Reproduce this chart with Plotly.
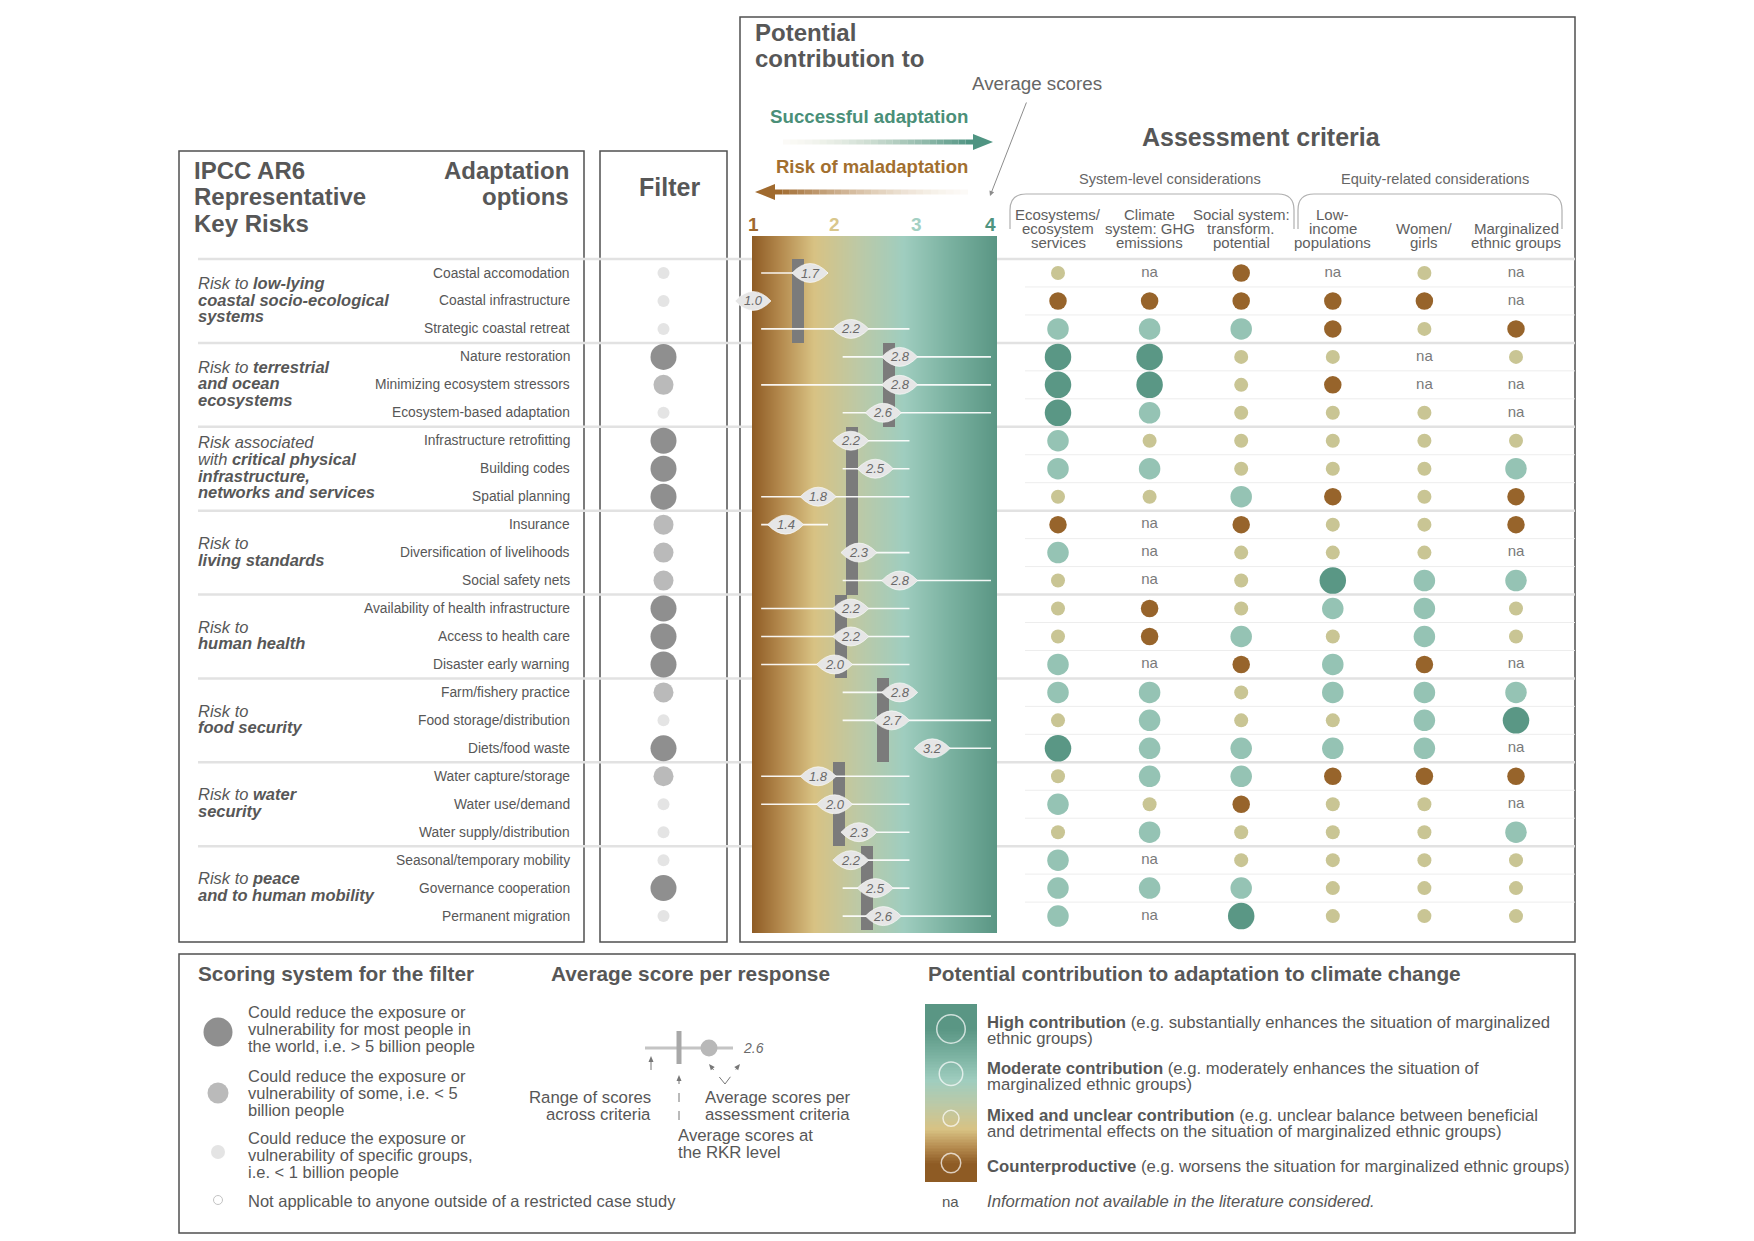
import numpy as np
import plotly.graph_objects as go

W, H = 1754, 1241
OFF = 8  # page body margin compensation

# ---------------- DATA ----------------
risk_labels = [
    ["Risk to <b>low-lying</b>", "<b>coastal socio-ecological</b>", "<b>systems</b>"],
    ["Risk to <b>terrestrial</b>", "<b>and ocean</b>", "<b>ecosystems</b>"],
    ["Risk associated", "with <b>critical physical</b>", "<b>infrastructure,</b>", "<b>networks and services</b>"],
    ["Risk to", "<b>living standards</b>"],
    ["Risk to", "<b>human health</b>"],
    ["Risk to", "<b>food security</b>"],
    ["Risk to <b>water</b>", "<b>security</b>"],
    ["Risk to <b>peace</b>", "<b>and to human mobility</b>"],
]
group_size = [3, 3, 3, 3, 3, 3, 3, 3]

options = [
    "Coastal accomodation", "Coastal infrastructure", "Strategic coastal retreat",
    "Nature restoration", "Minimizing ecosystem stressors", "Ecosystem-based adaptation",
    "Infrastructure retrofitting", "Building codes", "Spatial planning",
    "Insurance", "Diversification of livelihoods", "Social safety nets",
    "Availability of health infrastructure", "Access to health care", "Disaster early warning",
    "Farm/fishery practice", "Food storage/distribution", "Diets/food waste",
    "Water capture/storage", "Water use/demand", "Water supply/distribution",
    "Seasonal/temporary mobility", "Governance cooperation", "Permanent migration",
]

# filter: L = > 5 billion, M = < 5 billion, S = < 1 billion
filter_level = ["S", "S", "S", "L", "M", "S", "L", "L", "L", "M", "M", "M",
                "L", "L", "L", "M", "S", "L", "M", "S", "S", "S", "L", "S"]

criteria_headers = [
    ["Ecosystems/", "ecosystem", "services"],
    ["Climate", "system: GHG", "emissions"],
    ["Social system:", "transform.", "potential"],
    ["Low-", "income", "populations"],
    ["Women/", "girls"],
    ["Marginalized", "ethnic groups"],
]

# 1 counterproductive, 2 mixed, 3 moderate, 4 high, None = na
eco = [2, 1, 3, 4, 4, 4, 3, 3, 2, 1, 3, 2, 2, 2, 3, 3, 2, 4, 2, 3, 2, 3, 3, 3]
climate = [None, 1, 3, 4, 4, 3, 2, 3, 2, None, None, None, 1, 1, None, 3, 3, 3, 3, 2, 3, None, 3, None]
social = [1, 1, 3, 2, 2, 2, 2, 2, 3, 1, 2, 2, 2, 3, 1, 2, 2, 3, 3, 1, 2, 2, 3, 4]
low_income = [None, 1, 1, 2, 1, 2, 2, 2, 1, 2, 2, 4, 3, 2, 3, 3, 2, 3, 1, 2, 2, 2, 2, 2]
women = [2, 1, 2, None, None, 2, 2, 2, 2, 2, 2, 3, 3, 3, 1, 3, 3, 3, 1, 2, 2, 2, 2, 2]
marginalized = [None, None, 1, 2, None, None, 2, 3, 1, 1, None, 3, 2, 2, None, 3, 4, None, 1, None, 3, 2, 2, 2]

avg_scores = [1.7, 1.0, 2.2, 2.8, 2.8, 2.6, 2.2, 2.5, 1.8, 1.4, 2.3, 2.8,
              2.2, 2.2, 2.0, 2.8, 2.7, 3.2, 1.8, 2.0, 2.3, 2.2, 2.5, 2.6]
rkr_avg = [1.55, 2.67, 2.22, 2.22, 2.08, 2.59, 2.06, 2.40]

score_ticks = [1, 2, 3, 4]

# ---------------- STYLE ----------------
FONT = "Liberation Sans, Arial, Helvetica, sans-serif"
TXT = "#575757"
score_color = {1: "#97642B", 2: "#C9C594", 3: "#95C3B4", 4: "#5A9785"}
score_size = {1: 17.5, 2: 14, 3: 21.5, 4: 26.5}
filter_color = {"L": "#606060", "M": "#9D9D9D", "S": "#D8D8D8"}
filter_size = {"L": 26, "M": 20, "S": 12}
tick_color = {1: "#A0692E", 2: "#D9C78C", 3: "#A3D0C3", 4: "#4F9480"}

ROW0, ROWH = 273.0, 27.96
def rowpx(ypx):
    return (ypx - ROW0) / ROWH

S0, SU = 753.0, 81.5
def spx(xpx):
    return 1 + (xpx - S0) / SU

def px(x):
    return (x - OFF) / W

def py(y):
    return 1 - (y - OFF) / H

grad_stops = [(1.0, "#8E5B24"), (1.35, "#B58B4F"), (1.75, "#D8C283"), (2.3, "#BCC9A6"),
              (2.85, "#9FCDBF"), (3.4, "#7BB2A1"), (4.0, "#5A9684")]
ZMIN, ZMAX = spx(752), spx(997)
colorscale = [[max(0.0, min(1.0, (s - ZMIN) / (ZMAX - ZMIN))), c] for s, c in grad_stops]
colorscale[0][0] = 0.0
colorscale[-1][0] = 1.0

n_rows = len(options)
rows = list(range(n_rows))

fig = go.Figure()

# ---------- gradient background ----------
gx = np.linspace(spx(752), spx(997), 246)
gz = [list((gx[:-1] + gx[1:]) / 2)]
fig.add_trace(go.Heatmap(x=gx, y=[rowpx(236), rowpx(933)], z=gz, colorscale=colorscale,
                         zmin=ZMIN, zmax=ZMAX, showscale=False, hoverinfo="skip",
                         xaxis="x", yaxis="y"))

# ---------- range lines ----------
cols = [eco, climate, social, low_income, women, marginalized]
lx, ly = [], []
for r in rows:
    vals = [c[r] for c in cols if c[r] is not None]
    lo, hi = min(vals), max(vals)
    if hi > lo:
        lx += [lo + 0.1, hi - 0.08, None]
        ly += [r, r, None]
fig.add_trace(go.Scatter(x=lx, y=ly, mode="lines", line=dict(color="rgba(255,255,255,0.92)", width=1.6),
                         hoverinfo="skip", xaxis="x", yaxis="y", showlegend=False))

# ---------- RKR bars ----------
bases, starts = [], 0
for g in group_size:
    bases.append(starts - 0.5)
    starts += g
fig.add_trace(go.Bar(x=rkr_avg, y=group_size, base=bases, width=12 / SU,
                     marker=dict(color="#7B7B7B", line=dict(width=0)),
                     xaxis="x", yaxis="y", showlegend=False, hoverinfo="skip"))

# ---------- filter dots ----------
fig.add_trace(go.Scatter(x=[0] * n_rows, y=rows, mode="markers",
                         marker=dict(size=[filter_size[f] for f in filter_level],
                                     color=[filter_color[f] for f in filter_level], line=dict(width=0)),
                         xaxis="x2", yaxis="y", showlegend=False, hoverinfo="skip"))

# ---------- criteria dots ----------
dx, dy, ds, dc, nx, ny = [], [], [], [], [], []
for ci, col in enumerate(cols):
    for r in rows:
        v = col[r]
        if v is None:
            nx.append(ci); ny.append(r)
        else:
            dx.append(ci); dy.append(r); ds.append(score_size[v]); dc.append(score_color[v])
fig.add_trace(go.Scatter(x=dx, y=dy, mode="markers",
                         marker=dict(size=ds, color=dc, line=dict(width=0), opacity=1),
                         xaxis="x3", yaxis="y", showlegend=False, hoverinfo="skip"))
fig.add_trace(go.Scatter(x=nx, y=ny, mode="text", text=["na"] * len(nx),
                         textfont=dict(family=FONT, size=15, color="#7A7A7A"),
                         xaxis="x3", yaxis="y", showlegend=False, hoverinfo="skip"))

# ---------- legend: filter circles & mini chart (pixel axis) ----------
fig.add_trace(go.Scatter(x=[218, 218, 218, 218], y=[1032, 1093, 1152, 1200], mode="markers",
                         marker=dict(size=[29, 21, 14, 9],
                                     color=["#606060", "#9D9D9D", "#D8D8D8", "white"],
                                     line=dict(width=[0, 0, 0, 1], color=["#606060", "#9D9D9D", "#D8D8D8", "#AAAAAA"])),
                         xaxis="x4", yaxis="y2", showlegend=False, hoverinfo="skip"))
fig.add_trace(go.Scatter(x=[645, 733], y=[1048, 1048], mode="lines", line=dict(color="#C4C4C4", width=3),
                         xaxis="x4", yaxis="y2", showlegend=False, hoverinfo="skip"))
fig.add_trace(go.Scatter(x=[679, 679], y=[1031, 1064], mode="lines", line=dict(color="#A8A8A8", width=5),
                         xaxis="x4", yaxis="y2", showlegend=False, hoverinfo="skip"))
fig.add_trace(go.Scatter(x=[709], y=[1048], mode="markers", marker=dict(size=17, color="#B8B8B8"),
                         xaxis="x4", yaxis="y2", showlegend=False, hoverinfo="skip"))

# ---------- legend colour bar ----------
cy = np.linspace(0.575, 4.56, 120)
cz = [[v] for v in (cy[:-1] + cy[1:]) / 2]
fig.add_trace(go.Heatmap(x=[0, 1], y=cy, z=cz, colorscale=colorscale, zmin=ZMIN, zmax=ZMAX,
                         showscale=False, hoverinfo="skip", xaxis="x5", yaxis="y3"))
fig.add_trace(go.Scatter(x=[0.5] * 4, y=score_ticks[::-1], mode="markers",
                         marker=dict(size=[score_size[s] + 2 for s in score_ticks[::-1]], color="rgba(0,0,0,0)",
                                     line=dict(color="white", width=1.5)),
                         xaxis="x5", yaxis="y3", showlegend=False, hoverinfo="skip"))

# ---------------- SHAPES ----------------
shapes = []
def rect(x0, y0, x1, y1, **kw):
    d = dict(type="rect", xref="paper", yref="paper", x0=px(x0), x1=px(x1), y0=py(y1), y1=py(y0),
             line=dict(color="#505050", width=1.5), fillcolor="white", layer="below")
    d.update(kw)
    shapes.append(d)

rect(740, 17, 1575, 942)
rect(179, 151, 584, 942)
rect(600, 151, 727, 942)
rect(179, 954, 1575, 1233)

# row separators
bounds = [-0.5]
acc = 0
for g in group_size:
    acc += g
    bounds.append(acc - 0.5)
for r in range(n_rows - 1):
    yb = r + 0.5
    if yb in bounds:
        continue
    shapes.append(dict(type="line", xref="paper", yref="y", x0=px(1025), x1=px(1575), y0=yb, y1=yb,
                       line=dict(color="#EDEDED", width=1), layer="below"))
for yb in bounds[:-1]:
    shapes.append(dict(type="line", xref="paper", yref="y", x0=px(198), x1=px(1575), y0=yb, y1=yb,
                       line=dict(color="#E2E2E2", width=2.5), layer="below"))

# lens markers for average scores
for r, v in zip(rows, avg_scores):
    shapes.append(dict(type="path", xref="x", yref="y", xsizemode="pixel", ysizemode="pixel",
                       xanchor=v, yanchor=r, path="M -18,0 Q 0,-19 18,0 Q 0,19 -18,0 Z",
                       fillcolor="#E6E6E6", line=dict(color="white", width=0.6), layer="above"))

# braces
def brace(x0, x1, y0, y1, r=16):
    p = (f"M {px(x0)},{py(y1)} L {px(x0)},{py(y0 + r)} Q {px(x0)},{py(y0)} {px(x0 + r)},{py(y0)} "
         f"L {px(x1 - r)},{py(y0)} Q {px(x1)},{py(y0)} {px(x1)},{py(y0 + r)} L {px(x1)},{py(y1)}")
    shapes.append(dict(type="path", xref="paper", yref="paper", path=p,
                       line=dict(color="#B0B0B0", width=1.2)))
brace(1010, 1294, 194, 229)
brace(1298, 1562, 194, 229)

# gradient arrows
def grad_arrow(xs, xe, y, c0, c1, head_right):
    n = 26
    c0 = np.array([int(c0[i:i + 2], 16) for i in (1, 3, 5)])
    c1 = np.array([int(c1[i:i + 2], 16) for i in (1, 3, 5)])
    for i in range(n):
        t0, t1 = i / n, (i + 1) / n
        c = (c0 + (c1 - c0) * t1).astype(int)
        shapes.append(dict(type="line", xref="paper", yref="paper",
                           x0=px(xs + (xe - xs) * t0), x1=px(xs + (xe - xs) * t1), y0=py(y), y1=py(y),
                           line=dict(color=f"rgba({c[0]},{c[1]},{c[2]},{0.15 + 0.85 * t1:.2f})", width=5)))
    if head_right:
        p = f"M {px(xe)},{py(y - 8)} L {px(xe + 20)},{py(y)} L {px(xe)},{py(y + 8)} Z"
    else:
        p = f"M {px(xe)},{py(y - 8)} L {px(xe - 20)},{py(y)} L {px(xe)},{py(y + 8)} Z"
    shapes.append(dict(type="path", xref="paper", yref="paper", path=p,
                       fillcolor=f"rgb({c1[0]},{c1[1]},{c1[2]})", line=dict(width=0)))

grad_arrow(783, 973, 142, "#F1EAD5", "#4F9482", True)
grad_arrow(968, 775, 192, "#F4EBDB", "#A06A2E", False)

# dashed pointers in the legend
def dline(x0, y0, x1, y1):
    shapes.append(dict(type="line", xref="paper", yref="paper", x0=px(x0), y0=py(y0), x1=px(x1), y1=py(y1),
                       line=dict(color="#777777", width=1, dash="dash")))
def head(x, y, dxp, dyp):
    L = np.hypot(dxp, dyp)
    ux, uy = dxp / L, dyp / L
    bx, by = x - ux * 6, y - uy * 6
    p = f"M {px(x)},{py(y)} L {px(bx - uy * 2.5)},{py(by + ux * 2.5)} L {px(bx + uy * 2.5)},{py(by - ux * 2.5)} Z"
    shapes.append(dict(type="path", xref="paper", yref="paper", path=p, fillcolor="#777777", line=dict(width=0)))

dline(651, 1070, 651, 1060); head(651, 1056, 0, -1)
dline(679, 1120, 679, 1080); head(679, 1075, 0, -1)
dline(725, 1084, 712, 1068); head(709, 1064, -13, -16)
dline(725, 1084, 737, 1068); head(740, 1064, 13, -16)

# ---------------- ANNOTATIONS ----------------
ann = []
def T(x, y, text, size=16, color=TXT, family=FONT, xanchor="left", xref="paper", yref="paper", yanchor="middle"):
    if xref == "paper":
        x = px(x)
    if yref == "paper":
        y = py(y)
    ann.append(dict(x=x, y=y, xref=xref, yref=yref, text=text, showarrow=False, xanchor=xanchor,
                    yanchor=yanchor, font=dict(family=family, size=size, color=color)))

# headers left
for i, t in enumerate(["IPCC AR6", "Representative", "Key Risks"]):
    T(192, 171 + 26 * i, f"<b>{t}</b>", size=24)
for i, t in enumerate(["Adaptation", "options"]):
    T(571, 171 + 26 * i, f"<b>{t}</b>", size=24, xanchor="right")
T(669, 187, "<b>Filter</b>", size=25, xanchor="center")

# group labels
start = 0
for g, lines in zip(group_size, risk_labels):
    c = start + (g - 1) / 2 - 0.05
    n = len(lines)
    for j, t in enumerate(lines):
        T(196, c + (j - (n - 1) / 2) * 0.6, f"<i>{t}</i>", size=16.5, yref="y")
    start += g

# option labels
for r, t in zip(rows, options):
    T(572, r, t, size=13.8, xanchor="right", yref="y")

# top of right panel
T(753, 33, "<b>Potential</b>", size=24)
T(753, 59, "<b>contribution to</b>", size=24)
T(1037, 83, "Average scores", size=18.8, color="#666666", xanchor="center")
T(869, 116, "<b>Successful adaptation</b>", size=18.7, color="#4A8F78", xanchor="center")
T(872, 166, "<b>Risk of maladaptation</b>", size=18.5, color="#A26F2F", xanchor="center")
ann.append(dict(x=px(990), y=py(196), xref="paper", yref="paper", text="", showarrow=True, ax=37, ay=-95,
                arrowhead=2, arrowsize=1, arrowwidth=1, arrowcolor="#8C8C8C"))
for s in score_ticks:
    T(s, 224, f"<b>{s}</b>", size=19, color=tick_color[s], xanchor="right" if s == 4 else "center", xref="x")
T(1261, 137, "<b>Assessment criteria</b>", size=25, xanchor="center")
T(1170, 179, "System-level considerations", size=14.6, color="#666666", xanchor="center")
T(1435, 179, "Equity-related considerations", size=14.6, color="#666666", xanchor="center")
for ci, lines in enumerate(criteria_headers):
    off = 3 - len(lines)
    for j, t in enumerate(lines):
        T(ci, 214 + 14.5 * (j + off), t, size=15, color="#5E5E5E", xanchor="center", xref="x3")

# average score labels
for r, v in zip(rows, avg_scores):
    ann.append(dict(x=v, y=r, xref="x", yref="y", text=f"<i>{v:.1f}</i>", showarrow=False,
                    font=dict(family=FONT, size=13, color="#6A6A6A"), xanchor="center", yanchor="middle"))

# legend texts
T(196, 973, "<b>Scoring system for the filter</b>", size=20.8)
leg_filter = [
    (1012, ["Could reduce the exposure or", "vulnerability for most people in", "the world, i.e. &gt; 5 billion people"]),
    (1076, ["Could reduce the exposure or", "vulnerability of some, i.e. &lt; 5", "billion people"]),
    (1138, ["Could reduce the exposure or", "vulnerability of specific groups,", "i.e. &lt; 1 billion people"]),
    (1201, ["Not applicable to anyone outside of a restricted case study"]),
]
for y0, lines in leg_filter:
    for j, t in enumerate(lines):
        T(246, y0 + 16.8 * j, t, size=16.5)

T(690, 973, "<b>Average score per response</b>", size=20.8, xanchor="center")
T(741, 1048, "<i>2.6</i>", size=14, color="#6A6A6A")
T(653, 1097, "Range of scores", size=16.8, xanchor="right")
T(653, 1114, "across criteria", size=16.8, xanchor="right")
T(703, 1097, "Average scores per", size=16.8)
T(703, 1114, "assessment criteria", size=16.8)
T(676, 1135, "Average scores at", size=16.8)
T(676, 1152, "the RKR level", size=16.8)

T(926, 973, "<b>Potential contribution to adaptation to climate change</b>", size=20.8)
leg_contrib = [
    (1022, ["<b>High contribution</b> (e.g. substantially enhances the situation of marginalized", "ethnic groups)"]),
    (1068, ["<b>Moderate contribution</b> (e.g. moderately enhances the situation of", "marginalized ethnic groups)"]),
    (1115, ["<b>Mixed and unclear contribution</b> (e.g. unclear balance between beneficial",
            "and detrimental effects on the situation of marginalized ethnic groups)"]),
    (1166, ["<b>Counterproductive</b> (e.g. worsens the situation for marginalized ethnic groups)"]),
]
for y0, lines in leg_contrib:
    for j, t in enumerate(lines):
        T(985, y0 + 16.8 * j, t, size=16.7)
T(951, 1201, "na", size=15, xanchor="center")
T(985, 1201, "<i>Information not available in the literature considered.</i>", size=16.7)

# ---------------- LAYOUT ----------------
ax_common = dict(visible=False, fixedrange=True, showgrid=False, zeroline=False)
fig.update_layout(
    width=W, height=H, margin=dict(l=0, r=0, t=0, b=0),
    paper_bgcolor="white", plot_bgcolor="rgba(0,0,0,0)", showlegend=False,
    xaxis=dict(domain=[px(735), px(1010)], range=[spx(735), spx(1010)], anchor="y", **ax_common),
    xaxis2=dict(domain=[px(600), px(727)], range=[-1, 1], anchor="y", **ax_common),
    xaxis3=dict(domain=[px(1058 - 45.8), px(1516 + 45.8)], range=[-0.5, 5.5], anchor="y", **ax_common),
    xaxis4=dict(domain=[0, 1], range=[OFF, W + OFF], anchor="y2", **ax_common),
    xaxis5=dict(domain=[px(925), px(977)], range=[0, 1], anchor="y3", **ax_common),
    yaxis=dict(domain=[0, 1], range=[rowpx(H + OFF), rowpx(OFF)], anchor="x", **ax_common),
    yaxis2=dict(domain=[0, 1], range=[H + OFF, OFF], anchor="x4", **ax_common),
    yaxis3=dict(domain=[py(1182), py(1004)], range=[0.575, 4.56], anchor="x5", **ax_common),
    shapes=shapes, annotations=ann, bargap=0,
)

fig.write_html("out.html")
